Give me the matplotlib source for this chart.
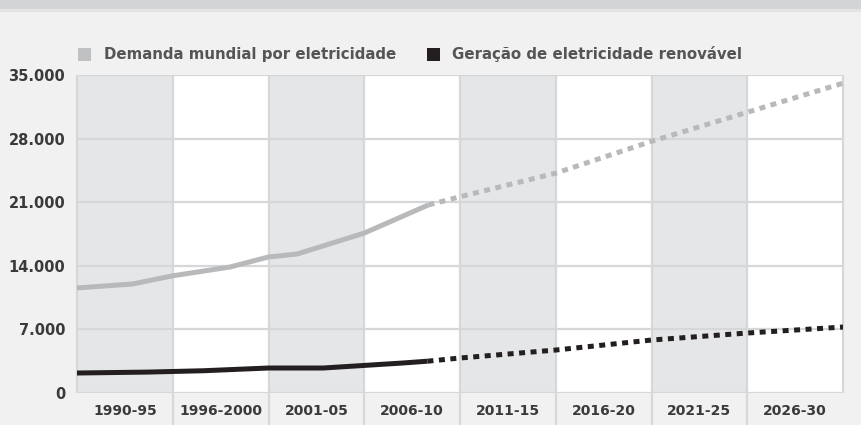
import matplotlib
matplotlib.use("Agg")
import matplotlib.pyplot as plt
from matplotlib.patches import Rectangle

# ---- data ----
periods = ["1990-95", "1996-2000", "2001-05", "2006-10", "2011-15", "2016-20", "2021-25", "2026-30"]
y_ticks = [0, 7000, 14000, 21000, 28000, 35000]
y_tick_labels = ["0", "7.000", "14.000", "21.000", "28.000", "35.000"]

demand_x = [0.0, 0.58, 1.0, 1.6, 2.0, 2.3, 3.0, 3.67]
demand_y = [11560, 12000, 12900, 13870, 14970, 15300, 17600, 20700]
demand_proj_x = [3.67, 4.0, 5.0, 6.0, 7.0, 8.0]
demand_proj_y = [20700, 21600, 24200, 27700, 30900, 34100]

renew_x = [0.0, 0.73, 1.32, 2.0, 2.57, 3.4, 3.66]
renew_y = [2200, 2300, 2450, 2750, 2750, 3300, 3500]
renew_proj_x = [3.66, 4.0, 5.0, 6.0, 7.0, 8.0]
renew_proj_y = [3500, 3850, 4730, 5830, 6600, 7260]

legend_labels = ["Demanda mundial por eletricidade", "Geração de eletricidade renovável"]

# ---- style ----
BG = "#f1f1f1"
SHADE = "#e5e6e8"
GRID = "#d6d7d9"
DEM = "#b8b9bb"
REN = "#231f20"
TXT = "#3a3a3a"

fam = ["DejaVu Sans"]

fig = plt.figure(figsize=(8.62, 4.25), dpi=100, facecolor=BG)
# top band
fig.patches.append(Rectangle((0, 1 - 9 / 425), 1, 9 / 425, transform=fig.transFigure,
                             facecolor="#d3d4d6", edgecolor="none", zorder=0))
fig.patches.append(Rectangle((0, 1 - 12 / 425), 1, 3 / 425, transform=fig.transFigure,
                             facecolor="#e2e3e4", edgecolor="none", zorder=0))

ax = fig.add_axes([77 / 862, 1 - 393 / 425, (843 - 77) / 862, (393 - 75) / 425])
ax.set_facecolor("white")
ax.set_xlim(0, len(periods))
ax.set_ylim(0, 35000)

for i in range(len(periods)):
    if i % 2 == 0:
        ax.axvspan(i, i + 1, facecolor=SHADE, edgecolor="none", zorder=0)

for yv in y_ticks:
    ax.axhline(yv, color=GRID, lw=1.6, zorder=1)

trans = ax.get_xaxis_transform()
ax.vlines(range(1, len(periods)), -0.12, 1, transform=trans, colors=GRID, lw=1.6,
          clip_on=False, zorder=1)
ax.vlines([0, len(periods)], 0, 1, transform=trans, colors=GRID, lw=1.6, clip_on=False, zorder=1)

for s in ax.spines.values():
    s.set_visible(False)

ax.plot(demand_x, demand_y, color=DEM, lw=3.6, solid_capstyle="butt", zorder=3)
ax.plot(demand_proj_x, demand_proj_y, color=DEM, lw=3.6, linestyle=(0, (1.2, 1.1)),
        dash_capstyle="butt", zorder=3)
ax.plot(renew_x, renew_y, color=REN, lw=3.6, solid_capstyle="butt", zorder=3)
ax.plot(renew_proj_x, renew_proj_y, color=REN, lw=3.6, linestyle=(0, (1.2, 1.1)),
        dash_capstyle="butt", zorder=3)

ax.set_xticks([i + 0.5 for i in range(len(periods))])
ax.set_xticklabels(periods, fontfamily=fam, fontsize=10, fontweight="bold", color=TXT)
ax.set_yticks(y_ticks)
ax.set_yticklabels(y_tick_labels, fontfamily=fam, fontsize=10.5, fontweight="bold", color=TXT)
ax.tick_params(axis="both", length=0)
ax.tick_params(axis="x", pad=8)
ax.tick_params(axis="y", pad=8.5)

# legend
fig.patches.append(Rectangle((78 / 862, 1 - 61 / 425), 13 / 862, 13 / 425,
                             transform=fig.transFigure, facecolor="#c0c1c3", edgecolor="none"))
fig.text(104 / 862, 1 - 54.5 / 425, legend_labels[0], fontfamily=fam, fontsize=10.8,
         fontweight="bold", color="#555555", va="center", ha="left")
fig.patches.append(Rectangle((427 / 862, 1 - 61 / 425), 13 / 862, 13 / 425,
                             transform=fig.transFigure, facecolor=REN, edgecolor="none"))
fig.text(452 / 862, 1 - 54.5 / 425, legend_labels[1], fontfamily=fam, fontsize=10.8,
         fontweight="bold", color="#555555", va="center", ha="left")

fig.savefig("out.png", dpi=100, facecolor=BG)
